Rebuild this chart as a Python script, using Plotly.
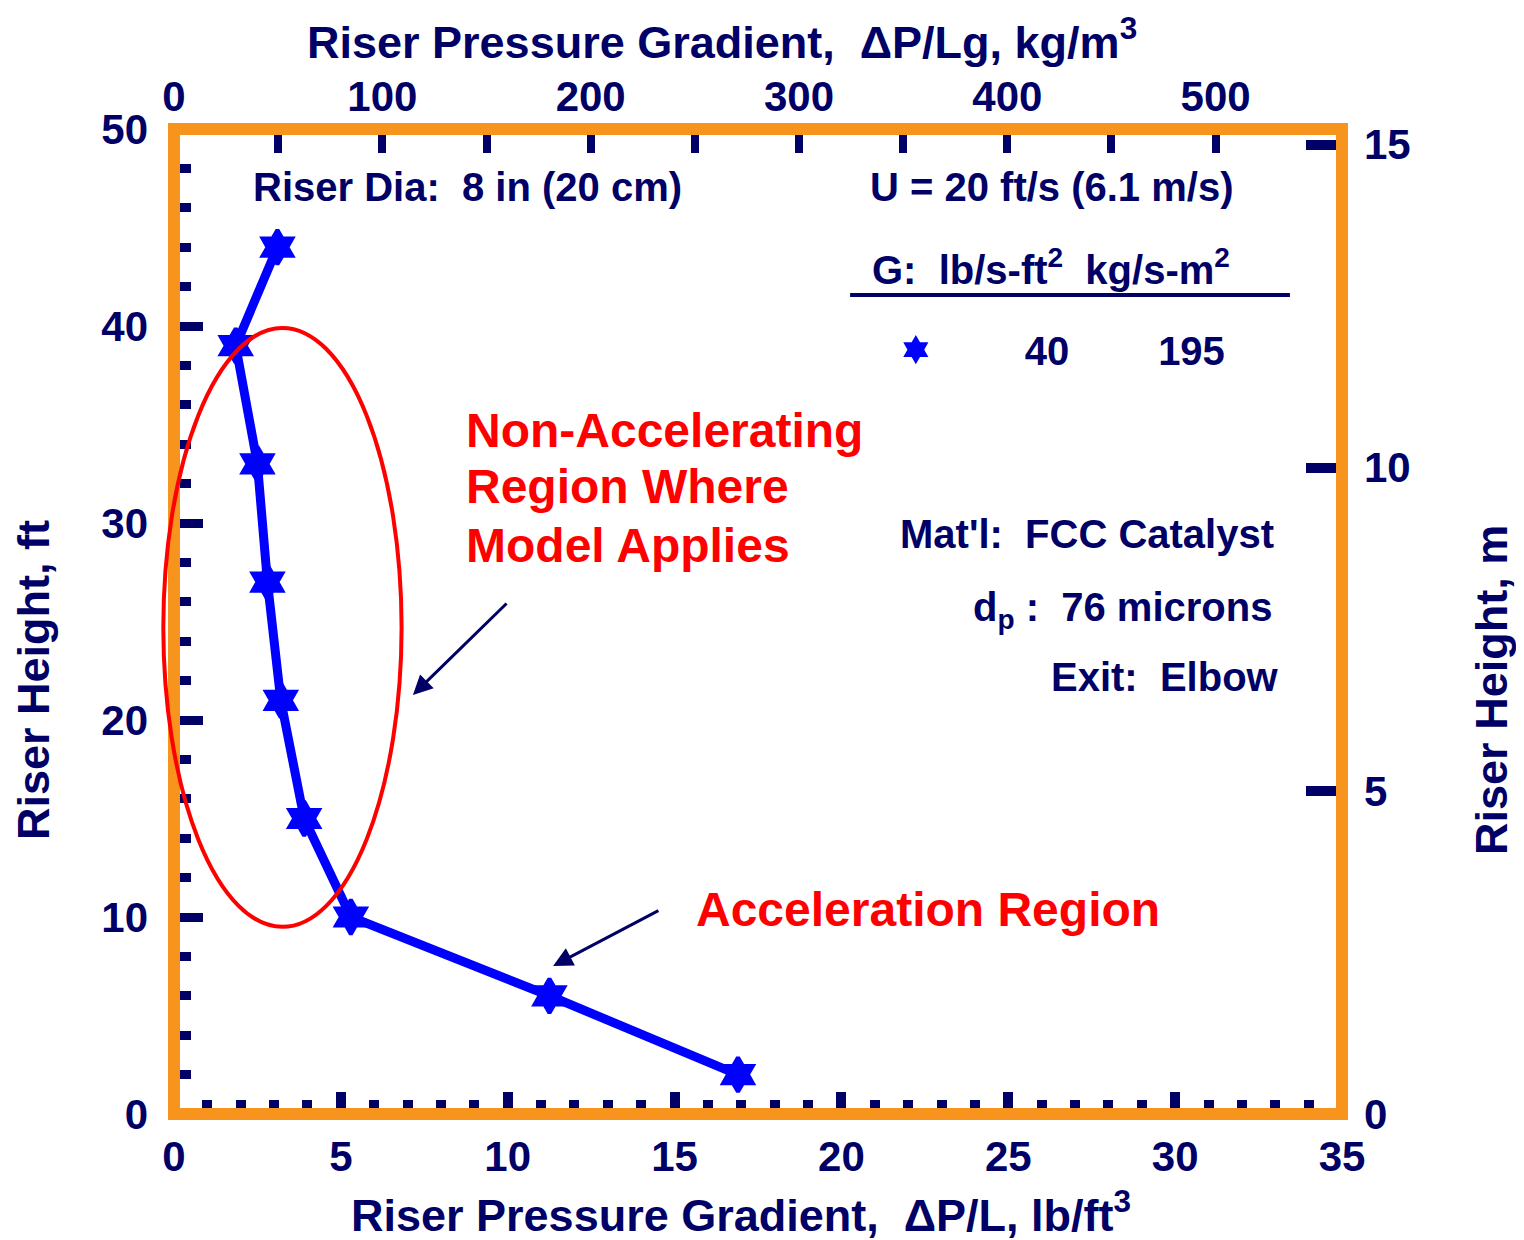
import plotly.graph_objects as go

# ---------------- data ----------------
dp_lbft3 = [3.1, 1.85, 2.5, 2.8, 3.2, 3.9, 5.3, 11.25, 16.9]   # riser pressure gradient, lb/ft3
height_ft = [44, 39, 33, 27, 21, 15, 10, 6, 2]                  # riser height, ft
g_flux_lb = 40    # lb/s-ft2
g_flux_kg = 195   # kg/s-m2

x_ticks_lb = [0, 5, 10, 15, 20, 25, 30, 35]
x_ticks_kg = [0, 100, 200, 300, 400, 500]
x_minor_kg = [50, 150, 250, 350, 450]
y_ticks_ft = [0, 10, 20, 30, 40, 50]
y_ticks_m = [0, 5, 10, 15]

LB_FT3_TO_KG_M3 = 16.0185
FT_TO_M = 0.3048
X_RANGE = [0, 35]
Y_RANGE = [0, 50]

# ellipse marking the non-accelerating region (data units)
ell_cx, ell_cy, ell_rx, ell_ry = 3.25, 24.7, 3.57, 15.2

# ---------------- styles ----------------
NAVY = "#000066"
RED = "#FF0000"
BLUE = "#0000FF"
ORANGE = "#F7941E"
FAM = "Arial, 'Liberation Sans', sans-serif"


def f(size, color=NAVY):
    return dict(family=FAM, size=size, color=color, weight="bold")


dp_kgm3 = [v * LB_FT3_TO_KG_M3 for v in dp_lbft3]
height_m = [h * FT_TO_M for h in height_ft]

fig = go.Figure()
fig.add_trace(go.Scatter(x=dp_lbft3, y=height_ft, mode="lines",
                         line=dict(color=BLUE, width=9), showlegend=False,
                         hoverinfo="skip"))
NB = "\u00a0"
fig.add_trace(go.Scatter(x=dp_lbft3, y=height_ft, mode="markers",
                         marker=dict(symbol="hexagram", size=26, color=BLUE,
                                     line=dict(color=BLUE, width=4)),
                         name=NB * 8 + str(g_flux_lb) + NB * 8 + str(g_flux_kg),
                         showlegend=True))
# same series in SI units on the secondary axes (invisible, keeps the axes live)
fig.add_trace(go.Scatter(x=dp_kgm3, y=height_m, xaxis="x2", yaxis="y2",
                         mode="markers", marker=dict(opacity=0, color=BLUE),
                         showlegend=False, hoverinfo="skip"))

common = dict(showgrid=False, zeroline=False, showline=False, tickcolor=NAVY,
              ticks="inside", tickfont=f(42))

fig.update_layout(
    width=1516, height=1232,
    margin=dict(l=166, r=182, t=121, b=126),
    paper_bgcolor="white", plot_bgcolor="white",
    font=f(40),
    xaxis=dict(range=X_RANGE, tickvals=x_ticks_lb, ticklen=22, tickwidth=10,
               minor=dict(dtick=1, tick0=0, ticks="inside", ticklen=14, tickwidth=10, tickcolor=NAVY),
               ticklabelstandoff=14, **common),
    yaxis=dict(range=Y_RANGE, tickvals=y_ticks_ft, ticklen=29, tickwidth=9,
               minor=dict(dtick=2, tick0=0, ticks="inside", ticklen=17, tickwidth=9, tickcolor=NAVY),
               ticklabelstandoff=25, **common),
    xaxis2=dict(range=[X_RANGE[0] * LB_FT3_TO_KG_M3, X_RANGE[1] * LB_FT3_TO_KG_M3],
                overlaying="x", side="top", anchor="y", tickvals=x_ticks_kg,
                ticklen=24, tickwidth=8,
                minor=dict(tickvals=x_minor_kg, ticks="inside", ticklen=24, tickwidth=8, tickcolor=NAVY),
                ticklabelstandoff=9, **common),
    yaxis2=dict(range=[Y_RANGE[0] * FT_TO_M, Y_RANGE[1] * FT_TO_M],
                overlaying="y", side="right", anchor="x", tickvals=y_ticks_m,
                ticklen=36, tickwidth=10, ticklabelstandoff=21, **common),
    legend=dict(x=0.618, y=0.776, xanchor="left", yanchor="middle",
                bgcolor="rgba(0,0,0,0)", font=f(40)),
)

xs = X_RANGE[1] - X_RANGE[0]
ys = Y_RANGE[1] - Y_RANGE[0]
shapes = [
    # orange plot frame
    dict(type="rect", xref="paper", yref="paper", x0=0, x1=1, y0=0, y1=1,
         line=dict(color=ORANGE, width=12), layer="above"),
    # ellipse around the non-accelerating region
    dict(type="circle", xref="paper", yref="paper",
         x0=(ell_cx - ell_rx) / xs, x1=(ell_cx + ell_rx) / xs,
         y0=(ell_cy - ell_ry) / ys, y1=(ell_cy + ell_ry) / ys,
         line=dict(color=RED, width=4), layer="above"),
    # legend header underline
    dict(type="line", xref="x", yref="y", x0=20.26, x1=33.44, y0=41.57, y1=41.57,
         line=dict(color=NAVY, width=4)),
]
fig.update_layout(shapes=shapes)

ann = []
def txt(x, y, text, size=40, color=NAVY, xanchor="center", align="center", **kw):
    ann.append(dict(x=x, y=y, xref="x", yref="y", text=text, showarrow=False,
                    font=f(size, color), xanchor=xanchor, yanchor="middle", align=align, **kw))

txt(8.78, 47.06, "Riser Dia:  8 in (20 cm)")
txt(26.28, 47.06, "U = 20 ft/s (6.1 m/s)")
txt(20.86, 43.0, "G:  lb/s-ft<sup>2</sup>  kg/s-m<sup>2</sup>", xanchor="left")
txt(8.69, 34.72, "Non-Accelerating", size=48, color=RED, xanchor="left")
txt(8.69, 31.83, "Region Where", size=48, color=RED, xanchor="left")
txt(8.69, 28.88, "Model Applies", size=48, color=RED, xanchor="left")
txt(33.02, 29.44, "Mat'l:  FCC Catalyst", xanchor="right")
txt(32.96, 25.6, "d<sub>p</sub> :  76 microns", xanchor="right")
txt(33.17, 22.18, "Exit:  Elbow", xanchor="right")
txt(15.58, 10.36, "Acceleration Region", size=48, color=RED, xanchor="left")

# arrows
for (hx, hy, tx, ty) in [(7.16, 21.27, 10.01, 25.99), (11.36, 7.51, 14.56, 10.36)]:
    ann.append(dict(x=hx, y=hy, ax=tx, ay=ty, xref="x", yref="y", axref="x", ayref="y",
                    text="", showarrow=True, arrowhead=2, arrowsize=1.3, arrowwidth=3,
                    arrowcolor=NAVY, standoff=0, startstandoff=0))

# axis titles
def title(x, y, text, angle=0):
    ann.append(dict(x=x, y=y, xref="paper", yref="paper", text=text, showarrow=False,
                    font=f(45), xanchor="center", yanchor="middle", textangle=angle))

title(0.4854, -0.0995, "Riser Pressure Gradient,  ΔP/L, lb/ft<sup>3</sup>")
title(0.4692, 1.0914, "Riser Pressure Gradient,  ΔP/Lg, kg/m<sup>3</sup>")
title(-0.1207, 0.4406, "Riser Height, ft", angle=-90)
title(1.1284, 0.4305, "Riser Height, m", angle=-90)

fig.update_layout(annotations=ann)
fig.write_html("out.html")
